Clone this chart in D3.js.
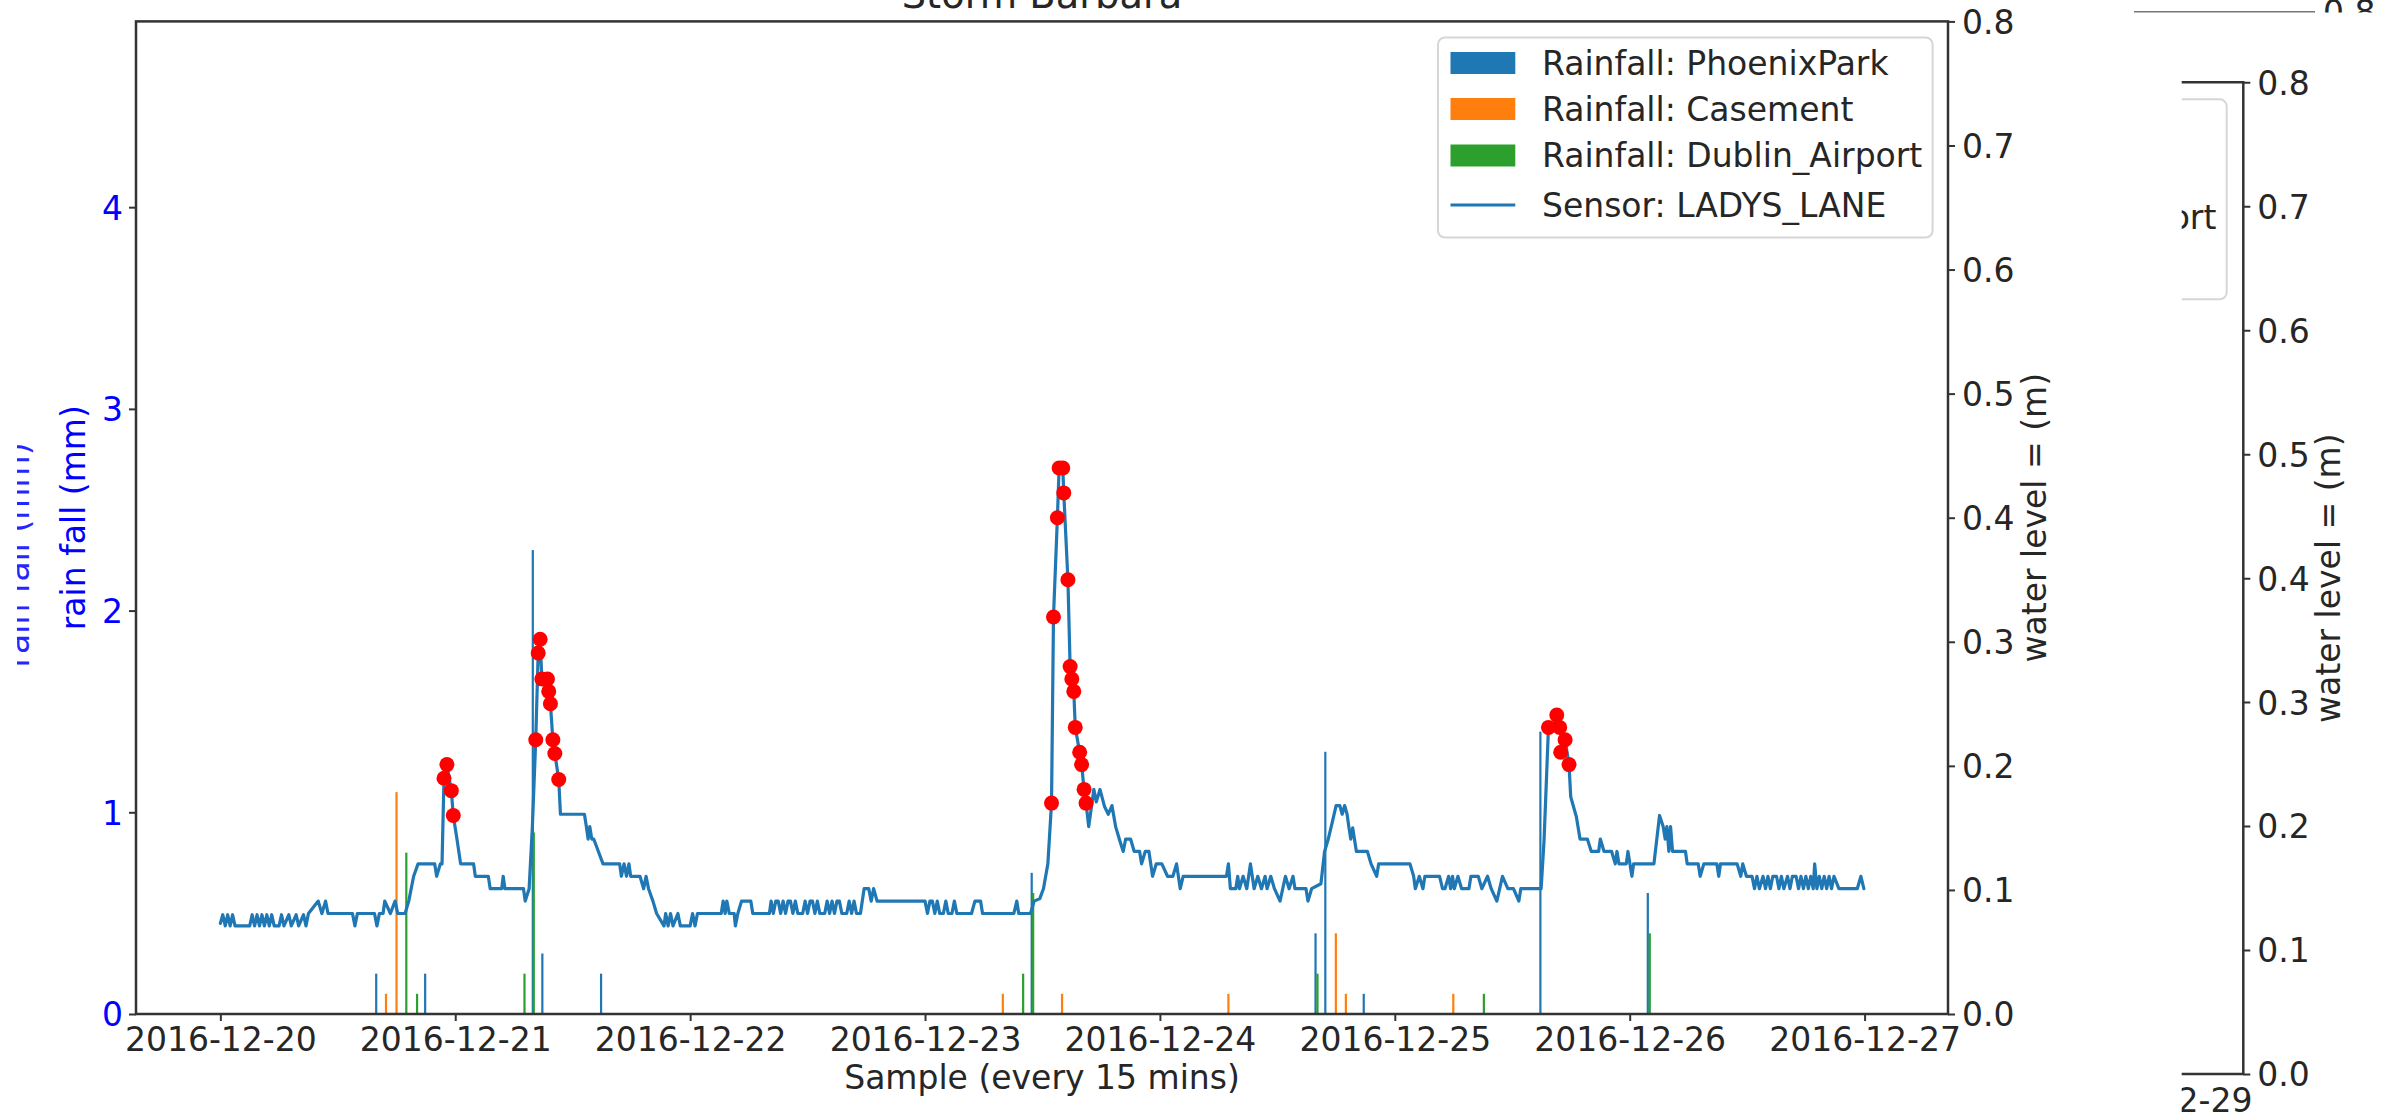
<!DOCTYPE html>
<html>
<head>
<meta charset="utf-8">
<script src="https://cdn.jsdelivr.net/npm/d3@7"></script>
<style>
  html, body { margin: 0; padding: 0; background: #fff; }
  svg { display: block; font-family: "DejaVu Sans", sans-serif; }
</style>
</head>
<body>
<svg id="chart" width="2400" height="1117"></svg>
<script>
// ---- data -------------------------------------------------------------
// x positions are 15-minute sample numbers counted from 2016-12-20 00:00 UTC
const dayTicks = ["2016-12-20", "2016-12-21", "2016-12-22", "2016-12-23",
                  "2016-12-24", "2016-12-25", "2016-12-26", "2016-12-27"];
const rainTicks = [0, 1, 2, 3, 4];
const levelTicks = [0.0, 0.1, 0.2, 0.3, 0.4, 0.5, 0.6, 0.7, 0.8];
const legendLabels = ["Rainfall: PhoenixPark", "Rainfall: Casement",
                      "Rainfall: Dublin_Airport", "Sensor: LADYS_LANE"];

// rainfall per gauge: [sample, mm]
const phoenixRain = [[63.7, 0.2], [83.7, 0.2], [127.7, 2.3], [131.6, 0.3], [155.6, 0.2],
  [331.6, 0.7], [447.6, 0.4], [451.6, 1.3], [467.3, 0.1], [539.5, 1.4], [583.4, 0.6]];
const casementRain = [[67.7, 0.1], [72, 1.1], [319.8, 0.1], [344, 0.1], [412, 0.1],
  [455.9, 0.4], [460, 0.1], [503.9, 0.1]];
const dublinRain = [[76, 0.8], [80.4, 0.1], [124.3, 0.2], [128.1, 0.9], [328.1, 0.2],
  [332.2, 0.6], [448.4, 0.2], [516.4, 0.1], [584.2, 0.4]];

// LADYS_LANE water level (m): [sample, level]
const sensorReadings = [
  [0, .073], [1, .080], [2, .071], [3, .080], [4, .071], [5, .080], [6, .071], [12, .071],
  [13, .080], [14, .071], [15, .080], [16, .071], [17, .080], [18, .071], [19, .080], [20, .071],
  [21, .080], [22, .071], [24, .071], [25, .080], [26, .071], [28, .080], [29, .071], [31, .080],
  [32, .071], [34, .080], [35, .071], [36, .081], [40, .091], [41.5, .081], [43, .091], [44, .081],
  [54, .081], [55, .071], [56, .081], [63, .081], [64, .071], [65, .081], [66.5, .081], [67.2, .091],
  [69.5, .081], [71.4, .091], [72.5, .081], [75.5, .081], [77, .091], [78, .101], [79, .111],
  [80.8, .121], [87.6, .121], [88.4, .111], [89.9, .121], [90.6, .121], [91.4, .190], [92.6, .201],
  [93.5, .190], [94.4, .180], [95.2, .160], [96.7, .141], [98.2, .121], [103.5, .121], [104.2, .111],
  [109.5, .111], [110.3, .101], [115, .101], [115.6, .111], [116.3, .101], [123.9, .101],
  [124.6, .091], [126.2, .101], [127.5, .150], [128.9, .221], [129.9, .291], [130.7, .302],
  [131.4, .270], [133.7, .270], [134.2, .260], [134.9, .250], [135.9, .221], [136.7, .210],
  [138.3, .189], [139, .161], [148.8, .161], [149.6, .151], [150.3, .141], [151, .151],
  [151.8, .141], [152.6, .141], [154.5, .131], [156.4, .121], [163.2, .121], [163.9, .111],
  [165, .121], [166, .111], [167, .121], [167.7, .111], [171.5, .111], [173, .101], [174, .111],
  [175, .101], [176.8, .091], [178.3, .081], [181.3, .071], [182, .081], [183, .071], [184, .081],
  [185, .071], [187, .081], [188, .071], [192, .071], [193, .081], [194, .071], [195, .081],
  [204.7, .081], [205.5, .091], [206.3, .081], [207, .091], [208, .081], [210, .081], [210.5, .071],
  [211.5, .081], [213, .091], [216.8, .091], [217.6, .081], [224.4, .081], [225.1, .091],
  [226, .081], [227, .091], [228, .091], [229, .081], [230, .091], [231, .081], [232, .091],
  [233, .091], [234, .081], [235, .091], [236, .081], [238, .081], [239, .091], [240, .081],
  [241, .091], [242, .091], [243, .081], [244, .091], [245, .081], [247, .081], [248, .091],
  [249, .081], [250, .091], [251, .081], [252, .091], [253, .091], [254, .081], [256, .081],
  [257, .091], [258, .081], [259, .091], [260, .081], [261.6, .081], [263.1, .101], [265, .101],
  [266, .091], [267, .101], [268.4, .091], [288, .091], [289, .081], [290, .091], [291, .091],
  [292, .081], [293, .091], [294, .081], [295.5, .081], [296.5, .091], [297.5, .081], [299, .081],
  [300, .091], [301, .081], [307, .081], [308.4, .091], [310.7, .091], [311.5, .081], [324.3, .081],
  [325.5, .091], [326.3, .081], [331.1, .081], [332.6, .091], [334.9, .093], [336.4, .101],
  [338.2, .121], [339.7, .170], [340.5, .320], [342.1, .400], [342.8, .440], [344.3, .440],
  [344.7, .420], [346.4, .350], [347.3, .280], [348, .270], [348.8, .260], [349.4, .231],
  [351.2, .211], [352, .201], [353, .181], [353.8, .170], [354.9, .151], [357, .181], [358, .171],
  [359.5, .181], [361.4, .167], [362.9, .161], [364.4, .168], [365.9, .151], [367.4, .141],
  [369, .131], [370, .141], [372, .141], [373.5, .131], [375.7, .131], [376.5, .121], [378, .131],
  [379.5, .131], [381, .111], [382.5, .121], [384.8, .121], [387.1, .111], [389.3, .111],
  [390.8, .121], [392.3, .101], [393.5, .111], [411.2, .111], [412, .121], [412.8, .101],
  [415, .101], [415.8, .111], [416.5, .101], [418, .111], [419.5, .101], [421, .121], [422.5, .101],
  [424, .111], [425.5, .101], [427, .111], [427.8, .101], [429.3, .111], [430.8, .101],
  [433.1, .091], [435.3, .111], [436.8, .101], [438.4, .111], [439.2, .101], [443.7, .101],
  [444.5, .091], [446, .101], [449.8, .105], [451.3, .131], [452.8, .141], [454.5, .155],
  [456, .168], [457.5, .168], [458.5, .161], [459.5, .168], [460.5, .161], [461.2, .151],
  [462, .141], [462.8, .150], [464.3, .131], [468.8, .131], [470.3, .121], [472.6, .111],
  [473.4, .121], [486.2, .121], [487.7, .111], [488.4, .101], [490, .111], [491.5, .101],
  [492.3, .111], [498.3, .111], [499.5, .101], [500.5, .101], [502, .111], [502.8, .101],
  [503.6, .111], [504.3, .101], [505.8, .111], [507.3, .101], [510.3, .101], [511.1, .111],
  [514.1, .111], [515.6, .101], [517.9, .111], [519.4, .101], [521.7, .091], [524, .111],
  [526.2, .101], [528.5, .101], [530.7, .091], [531.5, .101], [539.8, .101], [541, .140],
  [542.8, .231], [544.5, .231], [546.2, .241], [547.4, .231], [548.5, .221], [549.6, .221],
  [550.4, .211], [551.2, .201], [551.9, .175], [554.2, .159], [555.7, .141], [558.7, .141],
  [560.3, .131], [563.3, .131], [564, .141], [565.5, .131], [568.6, .131], [570.1, .121],
  [570.8, .131], [571.6, .121], [574.6, .121], [575.3, .131], [576.9, .111], [577.6, .121],
  [585.9, .121], [588.2, .160], [589.7, .151], [590.5, .141], [591.2, .151], [592, .131],
  [592.7, .151], [593.5, .131], [598.8, .131], [599.5, .121], [604, .121], [604.8, .111],
  [606.3, .121], [611.6, .121], [612.4, .111], [613.1, .121], [619.9, .121], [621.4, .111],
  [622.2, .121], [623.7, .111], [626, .111], [627, .101], [628, .111], [629, .101], [630.5, .111],
  [631.5, .101], [632.5, .111], [633.5, .101], [634.5, .111], [636, .111], [637, .101],
  [638, .111], [639, .101], [640.5, .111], [641.5, .101], [642.5, .111], [644, .111], [645, .101],
  [646, .111], [647, .101], [648, .111], [649, .101], [650, .111], [651, .101], [651.6, .121],
  [652.5, .101], [653.5, .111], [654.5, .101], [655.5, .111], [656.5, .101], [657.5, .111],
  [658.5, .101], [659.5, .111], [661.5, .101], [669, .101], [670.5, .111], [671.7, .101]
];

// flagged high readings: [sample, level]
const alertReadings = [
  [91.4, .190], [92.6, .201], [94.4, .180], [95.2, .160],
  [128.9, .221], [129.9, .291], [130.7, .302], [131.4, .270], [133.7, .270], [134.2, .260],
  [134.9, .250], [135.9, .221], [136.7, .210], [138.3, .189],
  [339.7, .170], [340.5, .320], [342.1, .400], [342.8, .440], [344.3, .440], [344.7, .420],
  [346.4, .350], [347.3, .280], [348, .270], [348.8, .260], [349.4, .231], [351.2, .211],
  [352, .201], [353, .181], [353.8, .170],
  [542.8, .231], [546.2, .241], [547.4, .231], [549.6, .221], [547.8, .211], [551.2, .201]
];

// ---- layout -----------------------------------------------------------
const W = 2400, H = 1117;
const plot = { left: 136, right: 1948, top: 21.4, bottom: 1014 };
const FONT = 33;
const INK = "#262626";
const SPINE = "#333";
const colors = { phoenix: "#1f77b4", casement: "#ff7f0e", dublin: "#2ca02c", sensor: "#1f77b4" };

const t0 = Date.UTC(2016, 11, 20);
const DAY = 864e5;
const stepTime = s => new Date(t0 + s * 15 * 60000);
const parseDay = d3.utcParse("%Y-%m-%d");

const svg = d3.select("#chart");
const defs = svg.append("defs");

const x = d3.scaleUtc()
  .domain([new Date(t0 - 0.3591 * DAY), new Date(t0 + 7.3551 * DAY)])
  .range([plot.left, plot.right]);
const yRain = d3.scaleLinear().domain([0, 4.921]).range([plot.bottom, plot.top]);
const yLevel = d3.scaleLinear().domain([0, 0.8]).range([plot.bottom, plot.top]);

function styleAxis(g, color) {
  g.select(".domain").remove();
  g.selectAll(".tick line").attr("stroke", SPINE).attr("stroke-width", 2);
  g.selectAll("text").attr("font-size", FONT).attr("fill", color)
    .attr("font-family", "DejaVu Sans");
}

const LEGEND_ROWS = [25.5, 71.5, 118, 167.5];
const LEGEND_SWATCH = [colors.phoenix, colors.casement, colors.dublin, colors.sensor];

// legend frame plus the chosen entries
function drawLegend(parent, lx, ly, entries) {
  const g = parent.append("g").attr("transform", `translate(${lx},${ly})`);
  g.append("rect").attr("width", 494.6).attr("height", 200).attr("rx", 7)
    .attr("fill", "#fff").attr("fill-opacity", 0.8)
    .attr("stroke", "#d6d6d6").attr("stroke-width", 2);
  entries.forEach(i => {
    const cy = LEGEND_ROWS[i];
    if (i < 3) {
      g.append("rect").attr("x", 12.5).attr("y", cy - 11)
        .attr("width", 64.8).attr("height", 22).attr("fill", LEGEND_SWATCH[i]);
    } else {
      g.append("line").attr("x1", 12.5).attr("x2", 77.3)
        .attr("y1", cy).attr("y2", cy)
        .attr("stroke", LEGEND_SWATCH[i]).attr("stroke-width", 3);
    }
    g.append("text").attr("x", 104).attr("y", cy).attr("dy", "0.36em")
      .attr("font-size", FONT).attr("fill", INK).text(legendLabels[i]);
  });
}

// ---- neighbouring panels (partly visible at the page edges) -----------
// panel to the upper right: its spine and the upper half of a tick label
defs.append("clipPath").attr("id", "clipUpper")
  .append("rect").attr("x", 2100).attr("y", 0).attr("width", 300).attr("height", 12.5);
svg.append("line").attr("x1", 2134).attr("x2", 2315).attr("y1", 11.7).attr("y2", 11.7)
  .attr("stroke", "#777").attr("stroke-width", 1.5);
svg.append("g").attr("clip-path", "url(#clipUpper)")
  .append("text").attr("x", 2323).attr("y", 11.7).attr("dy", "0.36em")
  .attr("font-size", FONT).attr("fill", INK).text(d3.format(".1f")(levelTicks[8]));

// panel to the right, clipped at its left edge
const panelLeft = 2181.7;
defs.append("clipPath").attr("id", "clipRight")
  .append("rect").attr("x", panelLeft).attr("y", 12.5).attr("width", W - panelLeft).attr("height", H);
const right = svg.append("g").attr("clip-path", "url(#clipRight)");
const p2 = { top: 82.3, bottom: 1074, axis: 2243.3 };
const yLevel2 = d3.scaleLinear().domain([0, 0.8]).range([p2.bottom, p2.top]);

// only the longest label reaches past the clipping edge
drawLegend(right, 1932.6 + 294.1 - 494.6, 37.5 + 61.8, [2]);
right.selectAll("g rect").filter(function () { return +d3.select(this).attr("width") < 100; }).remove();

right.append("path")
  .attr("d", `M${panelLeft - 10},${p2.top}H${p2.axis}V${p2.bottom}H${panelLeft - 10}`)
  .attr("fill", "none").attr("stroke", SPINE).attr("stroke-width", 2.5);
const ax2 = right.append("g").attr("transform", `translate(${p2.axis},0)`)
  .call(d3.axisRight(yLevel2).tickValues(levelTicks).tickFormat(d3.format(".1f"))
    .tickSize(7).tickPadding(7));
styleAxis(ax2, INK);
ax2.selectAll("text").attr("dy", "0.36em");
right.append("text").attr("x", 2156.5).attr("y", 1112).attr("text-anchor", "middle")
  .attr("font-size", FONT).attr("fill", INK).text("2016-12-29");
right.append("text").attr("transform", `translate(2340,${(p2.top + p2.bottom) / 2}) rotate(-90)`)
  .attr("text-anchor", "middle").attr("font-size", FONT).attr("fill", INK)
  .text("water level = (m)");

// axis label of the panel to the left, cut by the page edge
defs.append("clipPath").attr("id", "clipLeft")
  .append("rect").attr("x", 17).attr("y", 0).attr("width", 40).attr("height", H);
svg.append("g").attr("clip-path", "url(#clipLeft)")
  .append("text").attr("transform", "translate(29,555) rotate(-90)")
  .attr("text-anchor", "middle").attr("font-size", FONT).attr("fill", "#0000ff")
  .attr("opacity", 0.85).text("rain fall (mm)");

// ---- main chart -------------------------------------------------------
defs.append("clipPath").attr("id", "clipPlot")
  .append("rect").attr("x", plot.left).attr("y", plot.top)
  .attr("width", plot.right - plot.left).attr("height", plot.bottom - plot.top);
const marks = svg.append("g").attr("clip-path", "url(#clipPlot)");

const BAR_W = 2.2;
function drawBars(rows, color) {
  marks.append("g").selectAll("rect").data(rows).join("rect")
    .attr("x", d => x(stepTime(d[0])) - BAR_W / 2)
    .attr("width", BAR_W)
    .attr("y", d => yRain(d[1]))
    .attr("height", d => yRain(0) - yRain(d[1]))
    .attr("fill", color);
}
drawBars(phoenixRain, colors.phoenix);
drawBars(casementRain, colors.casement);
drawBars(dublinRain, colors.dublin);

const levelLine = d3.line()
  .x(d => x(stepTime(d[0])))
  .y(d => yLevel(d[1]));
marks.append("path").datum(sensorReadings)
  .attr("d", levelLine).attr("fill", "none")
  .attr("stroke", colors.sensor).attr("stroke-width", 3.2)
  .attr("stroke-linejoin", "round").attr("stroke-linecap", "round");

marks.append("g").selectAll("circle").data(alertReadings).join("circle")
  .attr("cx", d => x(stepTime(d[0])))
  .attr("cy", d => yLevel(d[1]))
  .attr("r", 7.5).attr("fill", "#ff0000");

// axes
const xAxis = svg.append("g").attr("transform", `translate(0,${plot.bottom})`)
  .call(d3.axisBottom(x).tickValues(dayTicks.map(parseDay))
    .tickFormat(d3.utcFormat("%Y-%m-%d")).tickSize(7));
styleAxis(xAxis, INK);
xAxis.selectAll("text").attr("y", 37).attr("dy", 0);

const leftAxis = svg.append("g").attr("transform", `translate(${plot.left},0)`)
  .call(d3.axisLeft(yRain).tickValues(rainTicks).tickFormat(d3.format("d"))
    .tickSize(7).tickPadding(6));
styleAxis(leftAxis, "#0000ff");
leftAxis.selectAll("text").attr("dy", "0.36em");

const rightAxis = svg.append("g").attr("transform", `translate(${plot.right},0)`)
  .call(d3.axisRight(yLevel).tickValues(levelTicks).tickFormat(d3.format(".1f"))
    .tickSize(7).tickPadding(7));
styleAxis(rightAxis, INK);
rightAxis.selectAll("text").attr("dy", "0.36em");

// frame
svg.append("rect").attr("x", plot.left).attr("y", plot.top)
  .attr("width", plot.right - plot.left).attr("height", plot.bottom - plot.top)
  .attr("fill", "none").attr("stroke", SPINE).attr("stroke-width", 2.5);

// titles and axis labels
const midX = (plot.left + plot.right) / 2;
const midY = (plot.top + plot.bottom) / 2;
svg.append("text").attr("x", midX).attr("y", 8.3).attr("text-anchor", "middle")
  .attr("font-size", 38.4).attr("fill", INK).text("Storm Barbara");
svg.append("text").attr("x", midX).attr("y", 1089).attr("text-anchor", "middle")
  .attr("font-size", FONT).attr("fill", INK).text("Sample (every 15 mins)");
svg.append("text").attr("transform", `translate(85,${midY}) rotate(-90)`)
  .attr("text-anchor", "middle").attr("font-size", FONT).attr("fill", "#0000ff")
  .text("rain fall (mm)");
svg.append("text").attr("transform", `translate(2046,${midY}) rotate(-90)`)
  .attr("text-anchor", "middle").attr("font-size", FONT).attr("fill", INK)
  .text("water level = (m)");

// legend
drawLegend(svg, 1438, 37.5, [0, 1, 2, 3]);
</script>
</body>
</html>
